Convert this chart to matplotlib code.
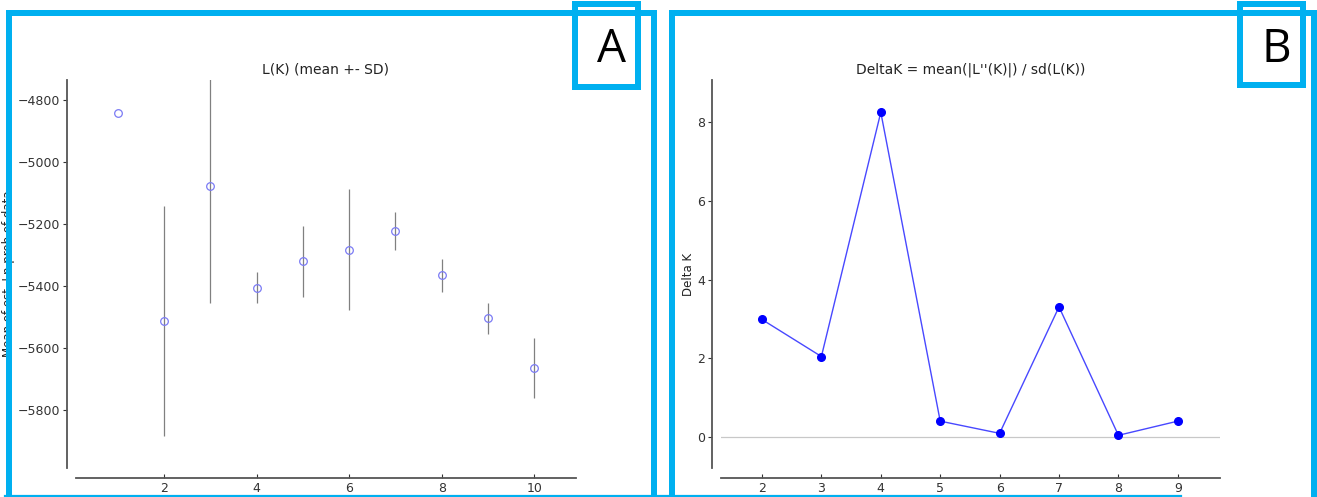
import matplotlib
matplotlib.use("Agg")
import matplotlib.pyplot as plt
from matplotlib.lines import Line2D
from matplotlib.patches import Rectangle

# ---- data ----
K_all = [1, 2, 3, 4, 5, 6, 7, 8, 9, 10]
LnP_mean = [-4840, -5513, -5077, -5405, -5320, -5282, -5222, -5365, -5504, -5663]
LnP_sd = [0, 370, 377, 51, 114, 194, 62, 53, 50, 97]

K_delta = [2, 3, 4, 5, 6, 7, 8, 9]
deltaK = [2.99, 2.05, 8.25, 0.41, 0.10, 3.31, 0.05, 0.41]

title_A = "L(K) (mean +- SD)"
title_B = "DeltaK = mean(|L''(K)|) / sd(L(K))"
ylabel_A = "Mean of est. Ln prob of data"
ylabel_B = "Delta K"

W, H = 1317, 497
fig = plt.figure(figsize=(W / 100, H / 100), dpi=100)


def fx(x):
    return x / W


def fy(y):
    return 1 - y / H


def style_axes(ax):
    for s in ["top", "right"]:
        ax.spines[s].set_visible(False)
    ax.spines["left"].set_position(("outward", 6.5))
    ax.spines["bottom"].set_position(("outward", 7.2))
    for s in ["left", "bottom"]:
        ax.spines[s].set_color("#555555")
        ax.spines[s].set_linewidth(1.3)
    ax.tick_params(axis="both", labelsize=9, colors="#333333", length=3, width=0.8)
    ax.tick_params(axis="x", direction="in", pad=3)
    ax.tick_params(axis="y", direction="out", pad=2)


# ---- Panel A ----
axA = fig.add_axes([fx(76), fy(468), fx(576) - fx(76), fy(80) - fy(468)])
axA.errorbar(K_all, LnP_mean, yerr=LnP_sd, fmt="none", ecolor="#808080",
             elinewidth=0.9, capsize=0, zorder=2)
axA.plot(K_all, LnP_mean, "o", mfc="none", mec="#7b7bf5", mew=0.9,
         markersize=5.5, linestyle="none", zorder=3)
axA.set_xlim(0.1, 10.9)
axA.set_ylim(-5987, -4735)
axA.set_xticks([2, 4, 6, 8, 10])
axA.set_yticks([-5800, -5600, -5400, -5200, -5000, -4800])
axA.set_title(title_A, pad=5, fontsize=10, color="#222222")
axA.set_ylabel(ylabel_A, fontsize=8.5, color="#222222")
axA.yaxis.set_label_coords(-0.121, 0.5)
style_axes(axA)

# ---- Panel B ----
axB = fig.add_axes([fx(721), fy(468), fx(1220) - fx(721), fy(80) - fy(468)])
axB.axhline(0, color="#c8c8c8", linewidth=0.9, zorder=1)
axB.plot(K_delta, deltaK, "-", color="#4848ff", linewidth=1.0, zorder=2)
axB.plot(K_delta, deltaK, "o", color="#0000ff", markersize=5.5,
         linestyle="none", zorder=3)
axB.set_xlim(1.31, 9.71)
axB.set_ylim(-0.78, 9.07)
axB.set_xticks(K_delta)
axB.set_yticks([0, 2, 4, 6, 8])
axB.set_title(title_B, pad=5, fontsize=10, color="#222222")
axB.set_ylabel(ylabel_B, fontsize=8.5, color="#222222")
axB.yaxis.set_label_coords(-0.052, 0.5)
style_axes(axB)

# ---- cyan panel borders & letter boxes ----
cyan = "#00b0f0"
lw_px = 6
lw = lw_px * 72 / 100


def seg(x0, y0, x1, y1, width=lw):
    fig.add_artist(Line2D([fx(x0), fx(x1)], [fy(y0), fy(y1)], color=cyan,
                          linewidth=width, transform=fig.transFigure,
                          zorder=50, solid_capstyle="projecting"))


# Panel A frame
seg(9, 12.5, 9, 500)
seg(9, 12.5, 654, 12.5)
seg(654, 12.5, 654, 500)
# Panel B frame
seg(672, 12.5, 672, 500)
seg(672, 12.5, 1314, 12.5)
seg(1314, 12.5, 1314, 500)
# thin bottom line
fig.add_artist(Line2D([fx(5), fx(1181)], [fy(496), fy(496)], color=cyan,
                      linewidth=1.6, transform=fig.transFigure, zorder=50))

for (x0, y0, x1, y1, letter) in [(575, 4, 638, 87, "A"), (1240, 4, 1303, 85, "B")]:
    fig.add_artist(Rectangle((fx(x0), fy(y1)), fx(x1) - fx(x0), fy(y0) - fy(y1),
                             fill=False, edgecolor=cyan, linewidth=lw,
                             transform=fig.transFigure, zorder=51))
    fig.text(fx((x0 + x1) / 2 + 5), fy(50), letter, ha="center",
             va="center", fontsize=33, family="Open Sans", color="black",
             zorder=52)

fig.savefig("out.png", dpi=100, facecolor="white")
